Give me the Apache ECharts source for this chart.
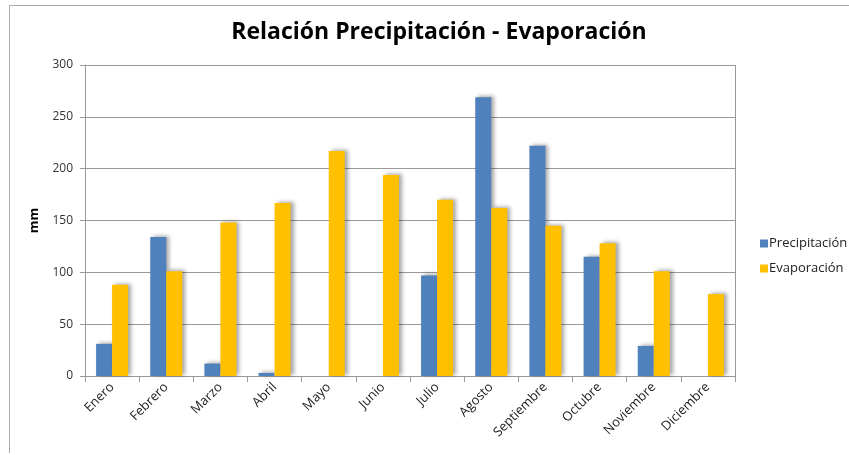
<!DOCTYPE html>
<html>
<head>
<meta charset="utf-8">
<script src="https://cdn.jsdelivr.net/npm/echarts@6/dist/echarts.min.js"></script>
<style>
  html, body { margin: 0; padding: 0; background: #fff; }
  #main { width: 849px; height: 455px; }
</style>
</head>
<body>
<div id="main"></div>
<script>
var meses = ["Enero", "Febrero", "Marzo", "Abril", "Mayo", "Junio", "Julio",
  "Agosto", "Septiembre", "Octubre", "Noviembre", "Diciembre"];
var precipitacion = [31, 134, 12, 3, 0, 0, 97, 269, 222, 115, 29, 0];
var evaporacion = [88, 101, 148, 167, 217, 194, 170, 162, 145, 128, 101, 79];

var chartDom = document.getElementById("main");
var myChart = echarts.init(chartDom);

var sombra = {
  shadowColor: "rgba(0,0,0,0.35)",
  shadowBlur: 4,
  shadowOffsetX: 3,
  shadowOffsetY: -1
};

var option = {
  animation: false,
  textStyle: { fontFamily: "Open Sans" },
  graphic: [
    {
      type: "polyline",
      shape: { points: [[9.5, 453], [9.5, 5.5], [849, 5.5]] },
      style: { fill: "none", stroke: "#aaa", lineWidth: 1 },
      silent: true
    },
    {
      // borde derecho del area de trazado
      type: "line",
      shape: { x1: 735.5, y1: 65, x2: 735.5, y2: 376 },
      style: { stroke: "#999", lineWidth: 1 },
      silent: true
    }
  ],
  title: {
    text: "Relación Precipitación - Evaporación",
    left: 434,
    textAlign: "center",
    top: 16,
    textStyle: { fontFamily: "Open Sans", fontWeight: "bold", fontSize: 23, color: "#000" }
  },
  legend: {
    orient: "vertical",
    left: 755,
    top: 232,
    itemWidth: 8,
    itemHeight: 8,
    itemGap: 12,
    icon: "rect",
    textStyle: { fontSize: 13, color: "#222", padding: [0, 0, 0, -4] },
    data: ["Precipitación", "Evaporación"]
  },
  grid: { left: 85, right: 114, top: 65, bottom: 79 },
  xAxis: {
    type: "category",
    data: meses,
    axisLine: { lineStyle: { color: "#999" } },
    axisTick: { show: true, length: 6, lineStyle: { color: "#999" } },
    axisLabel: { rotate: 45, fontSize: 13, color: "#222", margin: 9 },
    splitLine: { show: false }
  },
  yAxis: {
    type: "value",
    min: 0,
    max: 300,
    interval: 50,
    name: "mm",
    nameLocation: "middle",
    nameGap: 44,
    nameTextStyle: { fontWeight: "bold", fontSize: 13, color: "#000" },
    axisLine: { show: true, lineStyle: { color: "#999" } },
    axisTick: { show: true, length: 5, lineStyle: { color: "#999" } },
    axisLabel: { fontSize: 12, color: "#333", margin: 12 },
    splitLine: { lineStyle: { color: "#999" } }
  },
  series: [
    {
      name: "Precipitación",
      type: "bar",
      data: precipitacion,
      barWidth: 16,
      barGap: "0%",
      itemStyle: Object.assign({ color: "#4F81BD" }, sombra)
    },
    {
      name: "Evaporación",
      type: "bar",
      data: evaporacion,
      barWidth: 16,
      barGap: "0%",
      itemStyle: Object.assign({ color: "#FFC000" }, sombra)
    }
  ]
};

option && myChart.setOption(option);
</script>
</body>
</html>
